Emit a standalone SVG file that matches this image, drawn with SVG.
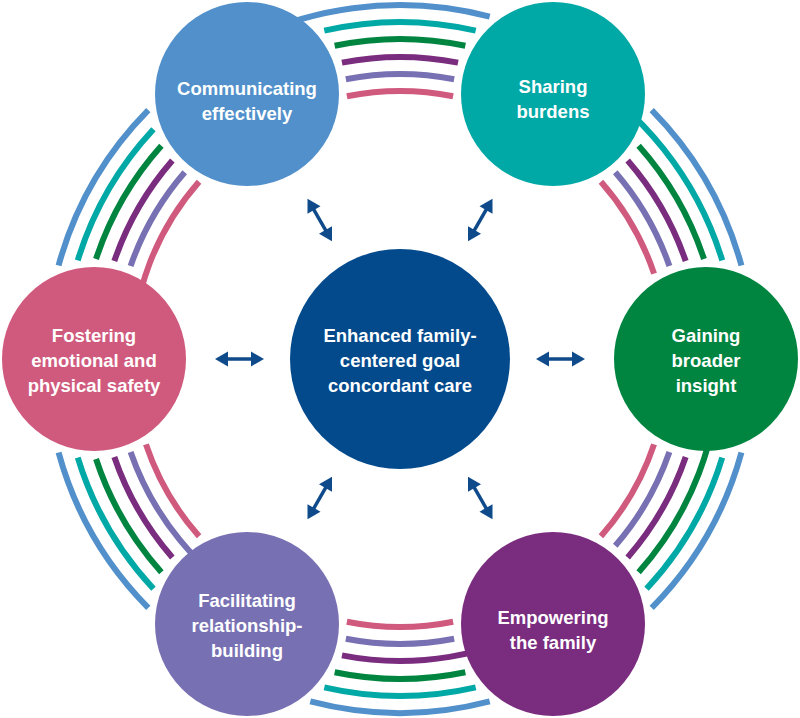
<svg xmlns="http://www.w3.org/2000/svg" xmlns:xlink="http://www.w3.org/1999/xlink" width="800" height="718" viewBox="0 0 800 718">
<style>
.ring{fill:none;stroke-width:6;stroke-linecap:butt}
.blue{stroke:#5190CB}.teal{stroke:#00A8A6}.green{stroke:#008541}.purple{stroke:#7A2C7F}.lav{stroke:#7771B3}.pink{stroke:#D05A7D}
.lbl{font-family:"Liberation Sans",Arial,sans-serif;font-weight:bold;font-size:18.5px;fill:#FFFFFF;text-anchor:middle}
.arw{fill:#0F4A8A}
</style>
<defs>
<path id="a0" d="M310.30,16.55 A354,354 0 0 1 489.70,16.55"/>
<path id="a1" d="M324.30,30.61 A337,337 0 0 1 475.70,30.61"/>
<path id="a2" d="M334.67,45.74 A320,320 0 0 1 465.33,45.74"/>
<path id="a3" d="M341.96,62.63 A302,302 0 0 1 458.04,62.63"/>
<path id="a4" d="M345.86,79.19 A285,285 0 0 1 454.14,79.19"/>
<path id="a5" d="M346.89,96.31 A268,268 0 0 1 453.11,96.31"/>
<path id="m0" d="M223,52.43 A354,354 0 0 1 489.70,16.55"/>
<path id="m1" d="M231.5,67.15 A337,337 0 0 1 475.70,30.61"/>
<path id="m2" d="M240,81.87 A320,320 0 0 1 465.33,45.74"/>
<path id="m3" d="M249,97.46 A302,302 0 0 1 458.04,62.63"/>
<path id="m4" d="M257.5,112.18 A285,285 0 0 1 454.14,79.19"/>
<path id="m5" d="M266,126.90 A268,268 0 0 1 453.11,96.31"/>
<g id="dbl" class="arw">
<line x1="546" y1="359" x2="575" y2="359" stroke="#0F4A8A" stroke-width="3.5"/>
<polygon points="536,359 549,351.5 549,366.5"/>
<polygon points="585,359 572,351.5 572,366.5"/>
</g>
</defs>
<rect width="800" height="718" fill="#FFFFFF"/>
<g id="rings">
<g id="ring-seg-1">
<use xlink:href="#m0" class="ring blue"/><use xlink:href="#a1" class="ring teal"/><use xlink:href="#a2" class="ring green"/><use xlink:href="#a3" class="ring purple"/><use xlink:href="#a4" class="ring lav"/><use xlink:href="#a5" class="ring pink"/>
</g>
<g id="ring-seg-2" transform="rotate(60 400 359)">
<use xlink:href="#a0" class="ring blue"/><use xlink:href="#m1" class="ring teal"/><use xlink:href="#a2" class="ring green"/><use xlink:href="#a3" class="ring purple"/><use xlink:href="#a4" class="ring lav"/><use xlink:href="#a5" class="ring pink"/>
</g>
<g id="ring-seg-3" transform="rotate(120 400 359)">
<use xlink:href="#a0" class="ring blue"/><use xlink:href="#a1" class="ring teal"/><use xlink:href="#m2" class="ring green"/><use xlink:href="#a3" class="ring purple"/><use xlink:href="#a4" class="ring lav"/><use xlink:href="#a5" class="ring pink"/>
</g>
<g id="ring-seg-4" transform="rotate(180 400 359)">
<use xlink:href="#a0" class="ring blue"/><use xlink:href="#a1" class="ring teal"/><use xlink:href="#a2" class="ring green"/><use xlink:href="#m3" class="ring purple"/><use xlink:href="#a4" class="ring lav"/><use xlink:href="#a5" class="ring pink"/>
</g>
<g id="ring-seg-5" transform="rotate(240 400 359)">
<use xlink:href="#a0" class="ring blue"/><use xlink:href="#a1" class="ring teal"/><use xlink:href="#a2" class="ring green"/><use xlink:href="#a3" class="ring purple"/><use xlink:href="#m4" class="ring lav"/><use xlink:href="#a5" class="ring pink"/>
</g>
<g id="ring-seg-6" transform="rotate(300 400 359)">
<use xlink:href="#a0" class="ring blue"/><use xlink:href="#a1" class="ring teal"/><use xlink:href="#a2" class="ring green"/><use xlink:href="#a3" class="ring purple"/><use xlink:href="#a4" class="ring lav"/><use xlink:href="#m5" class="ring pink"/>
</g>
</g>
<g id="connectors">
<use xlink:href="#dbl"/>
<use xlink:href="#dbl" transform="rotate(60 400 359)"/>
<use xlink:href="#dbl" transform="rotate(120 400 359)"/>
<use xlink:href="#dbl" transform="rotate(180 400 359)"/>
<use xlink:href="#dbl" transform="rotate(240 400 359)"/>
<use xlink:href="#dbl" transform="rotate(300 400 359)"/>
</g>
<g id="center">
<circle cx="400" cy="359" r="110" fill="#034A8D"/>
<text class="lbl" x="400" y="342">Enhanced family-</text>
<text class="lbl" x="400" y="367">centered goal</text>
<text class="lbl" x="400" y="392">concordant care</text>
</g>
<g id="communicating">
<circle cx="247" cy="94" r="92" fill="#5190CB"/>
<text class="lbl" x="247" y="95">Communicating</text>
<text class="lbl" x="247" y="120">effectively</text>
</g>
<g id="sharing">
<circle cx="553" cy="94" r="92" fill="#00A8A6"/>
<text class="lbl" x="553" y="93">Sharing</text>
<text class="lbl" x="553" y="118">burdens</text>
</g>
<g id="gaining">
<circle cx="706" cy="359" r="92" fill="#008541"/>
<text class="lbl" x="706" y="342">Gaining</text>
<text class="lbl" x="706" y="367">broader</text>
<text class="lbl" x="706" y="392">insight</text>
</g>
<g id="empowering">
<circle cx="553" cy="624" r="92" fill="#7A2C7F"/>
<text class="lbl" x="553" y="624">Empowering</text>
<text class="lbl" x="553" y="649">the family</text>
</g>
<g id="facilitating">
<circle cx="247" cy="624" r="92" fill="#7771B3"/>
<text class="lbl" x="247" y="607">Facilitating</text>
<text class="lbl" x="247" y="632">relationship-</text>
<text class="lbl" x="247" y="657">building</text>
</g>
<g id="fostering">
<circle cx="94" cy="359" r="92" fill="#D05A7D"/>
<text class="lbl" x="94" y="342">Fostering</text>
<text class="lbl" x="94" y="367">emotional and</text>
<text class="lbl" x="94" y="392">physical safety</text>
</g>
</svg>
